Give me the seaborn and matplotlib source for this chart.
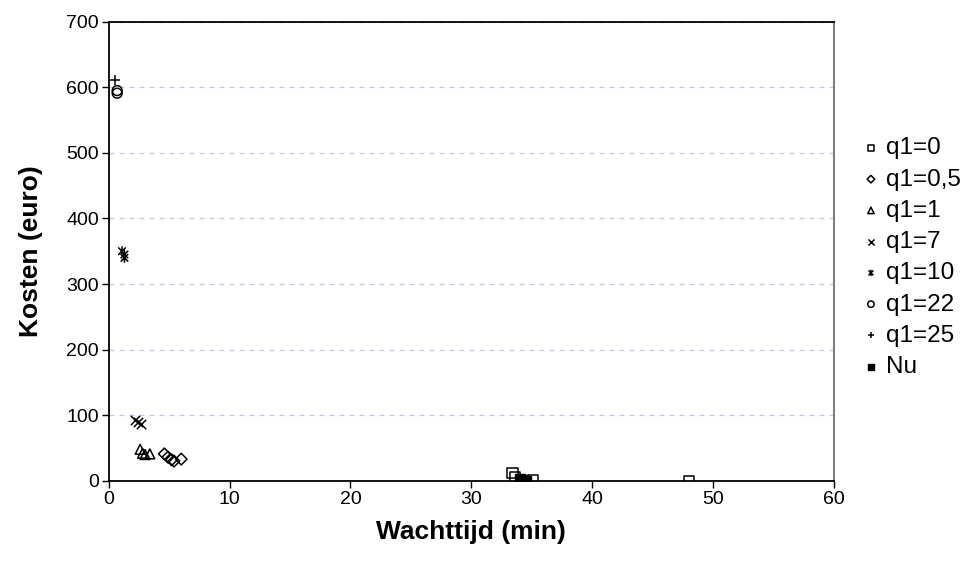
import matplotlib
matplotlib.use("Agg")
import matplotlib.pyplot as plt
from matplotlib.path import Path
import seaborn as sns

# Data (Wachttijd in min, Kosten in euro)
q0_x = [33.4, 33.6, 35.1, 48.0]
q0_y = [12, 5, 1, 0]
q05_x = [4.6, 4.9, 5.2, 5.4, 6.0]
q05_y = [41, 36, 32, 30, 33]
q1_x = [2.6, 2.8, 3.0, 3.4]
q1_y = [48, 42, 40, 41]
q7_x = [2.2, 2.4, 2.7]
q7_y = [93, 89, 86]
q10_x = [1.1, 1.3, 1.3]
q10_y = [350, 345, 340]
q22_x = [0.7, 0.7]
q22_y = [595, 591]
q25_x = [0.5]
q25_y = [611]
nu_x = [34.0, 34.3, 34.5]
nu_y = [3, 1, 0]

labels = ["q1=0", "q1=0,5", "q1=1", "q1=7", "q1=10", "q1=22", "q1=25", "Nu"]

sns.set_theme(style="white")
plt.rcParams['font.family'] = ['Liberation Sans', 'DejaVu Sans']
plt.rcParams['text.color'] = 'black'
plt.rcParams['axes.labelcolor'] = 'black'
plt.rcParams['xtick.color'] = 'black'
plt.rcParams['ytick.color'] = 'black'

fig = plt.figure(figsize=(9.62, 5.71), dpi=100)
ax = fig.add_axes([0.113, 0.158, 0.754, 0.804])

asterisk = Path([(-1, -1), (1, 1), (-1, 1), (1, -1), (0, -1.3), (0, 1.3)],
                [Path.MOVETO, Path.LINETO, Path.MOVETO, Path.LINETO, Path.MOVETO, Path.LINETO])

series = [
    (q0_x, q0_y, 's', 'hollow', 55),
    (q05_x, q05_y, 'D', 'hollow', 35),
    (q1_x, q1_y, '^', 'hollow', 50),
    (q7_x, q7_y, 'x', 'line', 45),
    (q10_x, q10_y, asterisk, 'hollow', 50),
    (q22_x, q22_y, 'o', 'hollow', 50),
    (q25_x, q25_y, '+', 'line', 55),
    (nu_x, nu_y, 's', 'filled', 55),
]

for (xs, ys, m, kind, s), lab in zip(series, labels):
    if kind == 'hollow':
        sns.scatterplot(x=xs, y=ys, ax=ax, marker=m, s=s, facecolors='none',
                        edgecolors='black', linewidths=1.1, label=lab, zorder=3)
    elif kind == 'line':
        sns.scatterplot(x=xs, y=ys, ax=ax, marker=m, s=s, color='black',
                        linewidths=1.1, label=lab, zorder=3)
    else:
        sns.scatterplot(x=xs, y=ys, ax=ax, marker=m, s=s, color='black',
                        edgecolor='black', linewidth=1, label=lab, zorder=3)

ax.set_xlim(0, 60)
ax.set_ylim(0, 700)
ax.set_xticks(range(0, 61, 10))
ax.set_yticks(range(0, 701, 100))
ax.tick_params(axis='both', direction='out', length=5, width=1, colors='black',
               labelsize=14, bottom=True, left=True, pad=2)
ax.yaxis.grid(True, linestyle=(0, (4, 4)), color='#c4c4ee', linewidth=0.9)
ax.set_axisbelow(True)

for side in ['left', 'bottom', 'top']:
    ax.spines[side].set_color('black')
    ax.spines[side].set_linewidth(1.3)
ax.spines['right'].set_color('#808080')
ax.spines['right'].set_linewidth(1.5)

ax.set_xlabel("Wachttijd (min)", fontsize=19, fontweight='bold', labelpad=9, color='black')
ax.set_ylabel("Kosten (euro)", fontsize=19, fontweight='bold', labelpad=17, color='black')

leg = ax.legend(loc='center left', bbox_to_anchor=(1.014, 0.486), frameon=False,
                fontsize=17.5, markerscale=0.65, handletextpad=0.1, labelspacing=0.38,
                borderaxespad=0.2, handlelength=1.0)

fig.savefig("out.png", dpi=100)
